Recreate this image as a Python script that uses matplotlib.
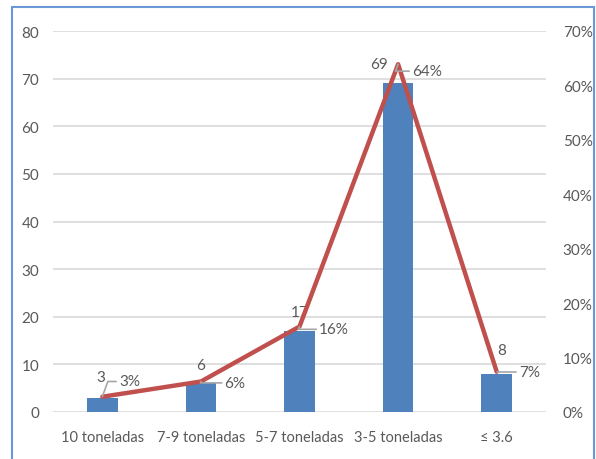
import matplotlib
matplotlib.use("Agg")
import matplotlib.pyplot as plt
from matplotlib.patches import Rectangle

categories = ["10 toneladas", "7-9 toneladas", "5-7 toneladas", "3-5 toneladas", "≤ 3.6"]
counts = [3, 6, 17, 69, 8]
shares = [0.028, 0.056, 0.157, 0.639, 0.074]
share_labels = ["3%", "6%", "16%", "64%", "7%"]
left_ticks = [0, 10, 20, 30, 40, 50, 60, 70, 80]
right_ticks = [0, 0.1, 0.2, 0.3, 0.4, 0.5, 0.6, 0.7]

plt.rcParams['font.family'] = ['Lato', 'DejaVu Sans']
TXT = "#595959"
BAR = "#4F81BD"
LINE = "#C0504D"
GRID = "#D9D9D9"

fig = plt.figure(figsize=(5.96, 4.6), dpi=100)
fig.patches.append(Rectangle((12/596, -0.01), 582/596, 1 - 8/460 + 0.01, transform=fig.transFigure,
                             fill=False, edgecolor="#6A97D6", linewidth=1.5))

ax = fig.add_axes([53/596, 1 - 413/460, 493/596, 381/460])
x = list(range(len(categories)))
ax.bar(x, counts, width=0.31, color=BAR, zorder=2)
ax.set_xlim(-0.5, 4.5)
ax.set_ylim(0, 80)
ax.set_yticks(left_ticks)
ax.set_yticklabels([str(t) for t in left_ticks])
ax.set_xticks(x)
ax.set_xticklabels(categories)
ax.grid(axis='y', color=GRID, linewidth=1.2, zorder=0)
ax.set_axisbelow(True)
for s in ax.spines.values():
    s.set_visible(False)
ax.tick_params(axis='both', length=0, colors=TXT, labelsize=11)
ax.tick_params(axis='y', pad=10)
ax.tick_params(axis='x', pad=13, labelsize=10.5)

ax2 = ax.twinx()
ax2.set_ylim(0, 0.7)
ax2.set_yticks(right_ticks)
ax2.set_yticklabels([f"{int(round(t*100))}%" for t in right_ticks])
for s in ax2.spines.values():
    s.set_visible(False)
ax2.tick_params(axis='y', length=0, colors=TXT, labelsize=11, pad=12)
ax2.plot(x, shares, color=LINE, linewidth=3.2, solid_capstyle='round', zorder=3)

# count labels above bars
count_offsets = [(-1, 15), (0, 13), (0, 14), (-14, 14), (3.5, 17)]
for xi, c, off in zip(x, counts, count_offsets):
    ax.annotate(str(c), (xi, c), xytext=off, textcoords='offset points',
                ha='center', va='center', fontsize=11, color=TXT)

# percent labels with leader lines
pct_offsets = [(12, 11), (17, -1), (14, -2), (10, -5), (16, 0)]
for xi, s, lab, off in zip(x, shares, share_labels, pct_offsets):
    ax2.annotate(lab, (xi, s), xytext=off, textcoords='offset points',
                 ha='left', va='center', fontsize=11, color=TXT,
                 arrowprops=dict(arrowstyle='-', color="#A6A6A6", lw=1.2,
                                 shrinkA=0, shrinkB=0,
                                 connectionstyle="angle,angleA=0,angleB=70,rad=0"))

fig.savefig("out.png", dpi=100)
